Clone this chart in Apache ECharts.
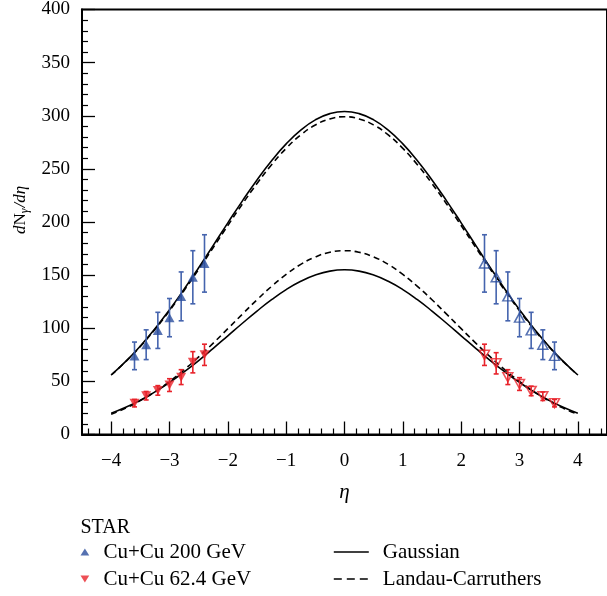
<!DOCTYPE html>
<html>
<head>
<meta charset="utf-8">
<script src="https://cdn.jsdelivr.net/npm/echarts@6/dist/echarts.min.js"></script>
<style>html,body{margin:0;padding:0;background:#fff;}#c{width:607px;height:596px;}</style>
</head>
<body>
<div id="c"></div>
<script>
// ---- data ----
var xTicks = [-4, -3, -2, -1, 0, 1, 2, 3, 4];
var yTicks = [0, 50, 100, 150, 200, 250, 300, 350, 400];

var etaCurve = [-4,-3.75,-3.5,-3.25,-3,-2.75,-2.5,-2.25,-2,-1.75,-1.5,-1.25,-1,-0.75,-0.5,-0.25,0,
                0.25,0.5,0.75,1,1.25,1.5,1.75,2,2.25,2.5,2.75,3,3.25,3.5,3.75,4];
var gauss200 = [56.0,68.8,83.3,99.5,117.4,136.7,157.0,178.0,199.2,219.9,239.6,257.7,273.5,286.5,296.1,302.0,304,
                302.0,296.1,286.5,273.5,257.7,239.6,219.9,199.2,178.0,157.0,136.7,117.4,99.5,83.3,68.8,56.0];
var landau200 = [56.0,68.6,82.9,98.9,116.5,135.5,155.4,176.0,196.7,217.0,236.2,253.9,269.3,281.9,291.3,297.0,299,
                 297.0,291.3,281.9,269.3,253.9,236.2,217.0,196.7,176.0,155.4,135.5,116.5,98.9,82.9,68.6,56.0];
var gauss62 = [20.0,25.6,32.3,40.1,49.0,58.9,69.6,81.1,92.9,104.7,116.2,126.9,136.4,144.2,150.1,153.8,155,
               153.8,150.1,144.2,136.4,126.9,116.2,104.7,92.9,81.1,69.6,58.9,49.0,40.1,32.3,25.6,20.0];
var landau62 = [19.0,24.8,31.9,40.2,49.9,60.9,73.0,86.0,99.6,113.3,126.8,139.4,150.7,160.1,167.1,171.5,173,
                171.5,167.1,160.1,150.7,139.4,126.8,113.3,99.6,86.0,73.0,60.9,49.9,40.2,31.9,24.8,19.0];

var etaLeft = [-3.6, -3.4, -3.2, -3.0, -2.8, -2.6, -2.4];
var etaRight = [2.4, 2.6, 2.8, 3.0, 3.2, 3.4, 3.6];
var cu200Left = [74, 84.5, 98, 110, 130, 148, 161];
var cu200LeftErr = [13, 14, 17, 18, 23, 25, 27];
var cu200Right = [161, 148, 130, 110, 98, 84.5, 74];
var cu200RightErr = [27, 25, 23, 18, 17, 14, 13];
var cu62Left = [29.5, 36.5, 41.5, 46.5, 54, 68, 75];
var cu62LeftErr = [3.5, 4, 4.5, 6, 7, 10, 10];
var cu62Right = [75, 67, 54, 47.5, 41, 36, 29.5];
var cu62RightErr = [10, 10, 7, 6, 4.5, 4, 3.5];

var seriesNames = ['Cu+Cu 200 GeV', 'Cu+Cu 62.4 GeV', 'Gaussian', 'Landau-Carruthers'];

// ---- build ----
var FONT = 'Liberation Serif';
var BLUE = '#2b4d9e', BLUE_BAR = '#4564ae', RED = '#e8232b';

function pairs(xs, ys) { return xs.map(function (x, i) { return [x, ys[i]]; }); }
function errData(xs, ys, es) { return xs.map(function (x, i) { return [x, ys[i] - es[i], ys[i] + es[i]]; }); }

var minorX = [];
for (var k = -22; k <= 22; k++) { if (k % 5 !== 0) minorX.push(k / 5); }

function errSeries(name, data, color) {
  return {
    type: 'custom', name: name, z: 4, silent: true,
    data: data,
    encode: { x: 0, y: [1, 2] },
    renderItem: function (params, api) {
      var lo = api.coord([api.value(0), api.value(1)]);
      var hi = api.coord([api.value(0), api.value(2)]);
      var c = 2.5;
      var st = { stroke: color, lineWidth: 1.6 };
      return { type: 'group', children: [
        { type: 'line', shape: { x1: lo[0], y1: lo[1], x2: hi[0], y2: hi[1] }, style: st },
        { type: 'line', shape: { x1: lo[0] - c, y1: lo[1], x2: lo[0] + c, y2: lo[1] }, style: st },
        { type: 'line', shape: { x1: hi[0] - c, y1: hi[1], x2: hi[0] + c, y2: hi[1] }, style: st }
      ]};
    }
  };
}

function curve(name, ys, dashed) {
  return {
    type: 'line', name: name, data: pairs(etaCurve, ys), smooth: true, symbol: 'none', z: 3,
    lineStyle: { color: '#000', width: 1.6, type: dashed ? [6, 4] : 'solid' },
    itemStyle: { color: '#000' }
  };
}

var chart = echarts.init(document.getElementById('c'), null, { renderer: 'canvas' });
var option = {
  animation: false,
  backgroundColor: '#fff',
  textStyle: { fontFamily: FONT },
  grid: { left: 82, top: 7.5, width: 526, height: 427, show: true, borderColor: '#000', borderWidth: 2, containLabel: false },
  xAxis: [{
    type: 'value', min: -4.5, max: 4.5, position: 'bottom',
    name: 'η', nameLocation: 'middle', nameGap: 47,
    nameTextStyle: { fontFamily: FONT, fontSize: 21, fontStyle: 'italic', color: '#000' },
    axisLine: { onZero: false, lineStyle: { color: '#000', width: 2 } },
    axisTick: { inside: true, length: 13, customValues: xTicks, lineStyle: { color: '#000', width: 1.3 } },
    axisLabel: { customValues: xTicks, margin: 17, fontFamily: FONT, fontSize: 19, color: '#000',
      formatter: function (v) { return String(v).replace('-', '\u2212'); } },
    splitLine: { show: false }
  }, {
    type: 'value', min: -4.5, max: 4.5, position: 'bottom',
    axisLine: { show: false },
    axisTick: { inside: true, length: 6, customValues: minorX, lineStyle: { color: '#000', width: 1.2 } },
    axisLabel: { show: false },
    splitLine: { show: false }
  }],
  yAxis: {
    type: 'value', min: 0, max: 400, interval: 50,
    name: '{i|d}N{sub|γ}{i|/dη}', nameLocation: 'middle', nameGap: 50, nameRotate: 90,
    nameTextStyle: { fontFamily: FONT, fontSize: 17, color: '#000', padding: [0, 0, 0, 24],
      rich: { i: { fontFamily: FONT, fontSize: 17, fontStyle: 'italic', color: '#000' },
              sub: { fontFamily: FONT, fontSize: 12, fontStyle: 'italic', color: '#000', padding: [8, 1, 0, 0] } } },
    axisLine: { onZero: false, lineStyle: { color: '#000', width: 2 } },
    axisTick: { inside: true, length: 13, lineStyle: { color: '#000', width: 1.3 } },
    minorTick: { show: true, splitNumber: 5, length: 6, lineStyle: { color: '#000', width: 1.2 } },
    axisLabel: { margin: 12, fontFamily: FONT, fontSize: 19, color: '#000' },
    splitLine: { show: false }
  },
  legend: [{
    orient: 'vertical', left: 80.5, top: 541, padding: 0, itemWidth: 9, itemHeight: 7, itemGap: 5,
    textStyle: { fontFamily: FONT, fontSize: 21, lineHeight: 22, color: '#000', padding: [0, 0, 0, 9] },
    selectedMode: false,
    data: [
      { name: seriesNames[0], icon: 'path://M5,0L10,8L0,8Z', itemStyle: { color: BLUE } },
      { name: seriesNames[1], icon: 'path://M0,0L10,0L5,8Z', itemStyle: { color: RED } }
    ]
  }, {
    orient: 'vertical', left: 333, top: 541, padding: 0, itemWidth: 35, itemHeight: 9, itemGap: 5,
    textStyle: { fontFamily: FONT, fontSize: 21, lineHeight: 22, color: '#000', padding: [0, 0, 0, 9] },
    selectedMode: false,
    itemStyle: { opacity: 0 },
    data: [
      { name: seriesNames[2], lineStyle: { color: '#000', width: 1.6, type: 'solid' } },
      { name: seriesNames[3], lineStyle: { color: '#000', width: 1.6, type: [8, 5] } }
    ]
  }],
  graphic: [{
    type: 'text', left: 80.5, top: 518,
    style: { text: 'STAR', fontFamily: FONT, fontSize: 20, fill: '#000' }
  }],
  series: [
    curve(seriesNames[2], gauss200, false),
    curve(seriesNames[3], landau200, true),
    curve(seriesNames[2], gauss62, false),
    curve(seriesNames[3], landau62, true),
    errSeries('err200L', errData(etaLeft, cu200Left, cu200LeftErr), BLUE_BAR),
    errSeries('err200R', errData(etaRight, cu200Right, cu200RightErr), BLUE_BAR),
    errSeries('err62L', errData(etaLeft, cu62Left, cu62LeftErr), RED),
    errSeries('err62R', errData(etaRight, cu62Right, cu62RightErr), RED),
    { type: 'scatter', name: seriesNames[0], z: 5, data: pairs(etaLeft, cu200Left),
      symbol: 'triangle', symbolSize: [10, 9], itemStyle: { color: BLUE } },
    { type: 'scatter', name: seriesNames[0], z: 5, data: pairs(etaRight, cu200Right),
      symbol: 'triangle', symbolSize: [10, 9], itemStyle: { color: 'rgba(0,0,0,0)', borderColor: BLUE, borderWidth: 1.5 } },
    { type: 'scatter', name: seriesNames[1], z: 5, data: pairs(etaLeft, cu62Left),
      symbol: 'triangle', symbolRotate: 180, symbolSize: [10, 9], itemStyle: { color: RED } },
    { type: 'scatter', name: seriesNames[1], z: 5, data: pairs(etaRight, cu62Right),
      symbol: 'triangle', symbolRotate: 180, symbolSize: [10, 9], itemStyle: { color: 'rgba(0,0,0,0)', borderColor: RED, borderWidth: 1.5 } }
  ]
};
chart.setOption(option);
</script>
</body>
</html>
